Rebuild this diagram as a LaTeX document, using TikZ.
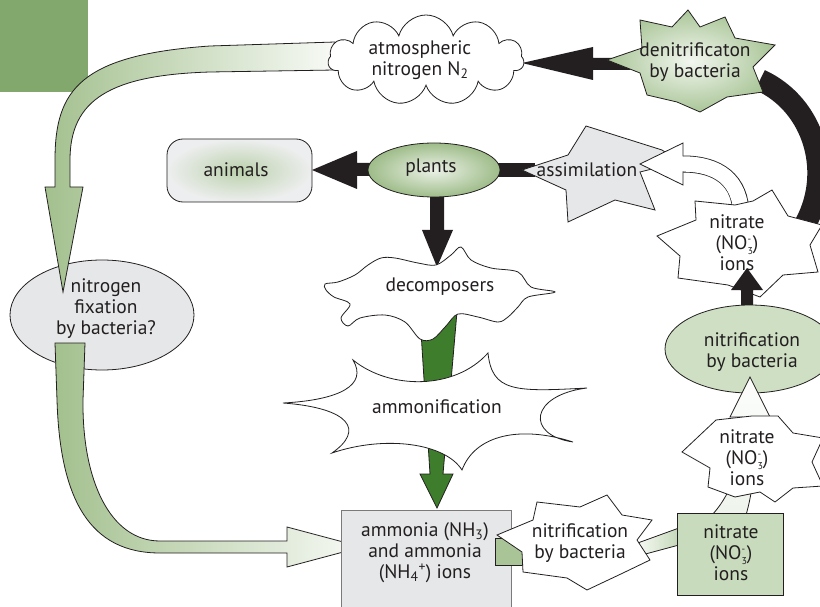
\documentclass[tikz,border=0pt]{standalone}
\usepackage{fontspec}
\setmainfont{PT Sans}
\usetikzlibrary{shapes.symbols}
\definecolor{sqgreen}{RGB}{131,168,110}
\definecolor{ink}{RGB}{35,31,32}
\definecolor{arrgreen}{RGB}{163,192,142}
\definecolor{plantgreen}{RGB}{158,188,137}
\definecolor{lgray}{RGB}{230,231,232}
\definecolor{boxgreen}{RGB}{200,219,189}
\definecolor{ellgreen}{RGB}{206,223,196}
\definecolor{darkgreen}{RGB}{62,125,43}
\definecolor{blockgreen}{RGB}{169,196,150}
\definecolor{denitgreen}{RGB}{170,198,152}
\newcommand{\nothree}{NO\smash{\makebox[0pt][l]{\raisebox{0.75ex}{\fontsize{10}{10}\selectfont -}}\raisebox{-0.45ex}{\fontsize{10}{10}\selectfont 3}}}
\begin{document}
\begin{tikzpicture}[x=1pt,y=-1pt,
  outl/.style={draw=ink,line width=0.8pt},
  lbl/.style={font=\fontsize{19.5}{21}\selectfont,text=ink,align=center,inner sep=0pt}]
\useasboundingbox (0,0) rectangle (820,607);
\clip (0,0) rectangle (820,607);
% green square
\fill[sqgreen] (0,0) rectangle (88,92);
% big black curve
\draw[ink,line width=22pt] (760,80) .. controls (815,105) and (835,175) .. (803,228);
% denit -> cloud
\fill[ink] (630,58) -- (593,58) -- (593,47) -- (522,63) -- (593,80) -- (593,70) -- (630,70) -- cycle;
% nitrogen fixation ellipse
\draw[outl,fill=lgray] (102,315) ellipse [x radius=92pt, y radius=55pt];
% upper-left arrow
\path[outl,left color=arrgreen,right color=white!92!arrgreen]
  (335,42) -- (210,46) .. controls (80,55) and (55,90) .. (55,160) -- (55,187) -- (45,187) -- (63,292) -- (83,187) -- (70,187) -- (70,160) .. controls (70,100) and (110,75) .. (210,72) -- (335,70) -- cycle;
% lower-left arrow
\path[outl,left color=arrgreen,right color=white!92!arrgreen]
  (55,343) -- (57,400) .. controls (60,500) and (90,553) .. (160,553) -- (287,553) -- (287,567) -- (362,547) -- (287,527) -- (287,541) -- (160,541) .. controls (110,541) and (82,480) .. (83,400) -- (85,343) -- cycle;
\node[lbl] (fix) at (106,309) {nitrogen\\fixation\\by bacteria?};
% cloud
\node[cloud,cloud puffs=11,aspect=2.1,outl,fill=white,minimum width=196pt,minimum height=90pt,inner sep=0pt] (atmshape) at (426,60) {};
\node[lbl] (atm) at (420,60) {atmospheric\\nitrogen N\textsubscript{2}};
% denitrification star
\path[outl,inner color=white!85!denitgreen,outer color=denitgreen]
  (607,60) -- (642,48) -- (640,20) -- (672,27) -- (688,10) -- (700,27) -- (725,17) -- (735,38) -- (775,45) -- (753,67) -- (763,92) -- (727,97) -- (700,112) -- (677,102) -- (647,95) -- (640,73) -- cycle;
\node[lbl] (denit) at (695,62) {denitrificaton\\by bacteria};
% animals
\path[outl,rounded corners=16pt,inner color=denitgreen!80!white,outer color=lgray!70!white] (167,139) rectangle (312,202);
\node[lbl] (animals) at (236,170) {animals};
% black arrows around plants
\fill[ink] (372,163) -- (357,163) -- (357,151) -- (312,170) -- (357,189) -- (357,176) -- (372,176) -- cycle;
\fill[ink] (430,195) -- (444,195) -- (444,230) -- (453,230) -- (437,267) -- (422,230) -- (430,230) -- cycle;
\fill[ink] (485,163) rectangle (535,177);
% plants
\path[outl,inner color=white!80!plantgreen,outer color=plantgreen] (434,170) ellipse [x radius=66pt, y radius=27pt];
\node[lbl] (plants) at (431,168) {plants};
% assimilation star
\path[outl,fill=lgray] (522,170) -- (568,155) -- (586,126) -- (662,150) -- (680,162) -- (640,172) -- (655,210) -- (615,200) -- (568,222) -- (566,190) -- cycle;
\node[lbl] (assim) at (587,170) {assimilation};
% white hollow arrow nitrate -> assimilation
\draw[ink,line width=17pt] (741,215) .. controls (741,180) and (718,164) .. (683,164);
\draw[white,line width=15.4pt] (741,216) .. controls (741,180) and (718,164) .. (683,164);
\filldraw[fill=white,draw=ink,line width=0.8pt] (683,156.5) -- (683,143) -- (640,164) -- (683,185) -- (683,171.5);
% upper nitrate star
\path[outl,fill=white] (657,236) -- (696,220) -- (695,201) -- (735,205) -- (753,201) -- (772,190) -- (788,216) -- (822,225) -- (810,245) -- (818,272) -- (783,275) -- (760,297) -- (728,285) -- (678,278) -- (680,256) -- cycle;
\node[lbl] (nitup) at (737,243) {nitrate\\(\nothree)\\ions};
% black arrow nitrification -> nitrate
\fill[ink] (741,312) -- (741,290) -- (731,290) -- (747,268) -- (763,290) -- (753,290) -- (753,312) -- cycle;
% right nitrification ellipse
\draw[outl,fill=ellgreen] (750,349) ellipse [x radius=85pt, y radius=44pt];
\node[lbl] (nitrr) at (752,352) {nitrification\\by bacteria};
% light arrow box -> ellipse
\path[outl,bottom color=white!70!boxgreen,top color=white!95!boxgreen]
  (712,515) .. controls (735,490) and (743,455) .. (743,417) -- (730,417) -- (750,377) -- (770,417) -- (757,417) .. controls (757,460) and (752,495) .. (746,515) -- cycle;
% lower nitrate star
\path[outl,fill=white] (682,452) -- (716,420) -- (752,416) -- (778,416) -- (793,433) -- (823,438) -- (812,462) -- (823,486) -- (793,488) -- (775,502) -- (760,492) -- (735,497) -- (708,487) -- (710,468) -- cycle;
\node[lbl] (nitlow) at (747,458) {nitrate\\(\nothree)\\ions};
% dark green arrow
\path[outl,fill=darkgreen] (419,300) -- (458,300) -- (443,474) -- (453,474) -- (437,508) -- (420,474) -- (430,474) -- cycle;
% decomposers blob
\path[outl,fill=white] plot[smooth cycle,tension=0.55] coordinates {(325,284) (338,282) (355,275) (368,265) (381,258) (395,258) (418,263) (436,265) (451,255) (461,247) (471,260) (491,268) (518,272) (531,287) (555,292) (528,297) (518,307) (508,317) (498,322) (478,317) (458,314) (446,326) (433,339) (420,339) (405,322) (385,315) (360,318) (348,326) (341,318) (350,304) (334,297) (326,290)};
\node[lbl] (decomp) at (440,287) {decomposers};
% ammonification
\path[outl,fill=white] (283,403) .. controls (340,400) and (368,385) .. (353,360)
  .. controls (390,390) and (455,390) .. (488,353)
  .. controls (492,392) and (515,392) .. (587,388)
  .. controls (530,395) and (525,435) .. (573,442)
  .. controls (520,425) and (475,435) .. (462,470)
  .. controls (445,443) and (385,435) .. (332,453)
  .. controls (365,430) and (350,408) .. (283,403) -- cycle;
\node[lbl] (ammonif) at (437,407) {ammonification};
% ammonia box
\draw[draw=ink!60,line width=0.8pt,fill=lgray] (341,510) rectangle (511,620);
\node[lbl] (ammonia) at (425,553) {ammonia (NH\textsubscript{3})\\and ammonia\\(NH\textsubscript{4}\textsuperscript{+}) ions};
% green block
\path[outl,fill=blockgreen] (495,538) rectangle (527,565);
% light arrow star -> box
\path[outl,left color=white!90!boxgreen,right color=boxgreen!90!arrgreen] (635,544) -- (679,528) -- (679,545) -- (638,556) -- cycle;
% lower nitrification star
\path[outl,fill=white] (497,535) -- (533,520) -- (537,502) -- (580,507) -- (607,495) -- (622,515) -- (652,520) -- (637,540) -- (650,560) -- (623,573) -- (587,590) -- (567,578) -- (523,572) -- (522,552) -- cycle;
\node[lbl] (nitrlow) at (580,543) {nitrification\\by bacteria};
% nitrate box
\draw[outl,fill=boxgreen] (677,513) rectangle (783,595);
\node[lbl] (nitbox) at (731,553) {nitrate\\(\nothree)\\ions};
\end{tikzpicture}
\end{document}
